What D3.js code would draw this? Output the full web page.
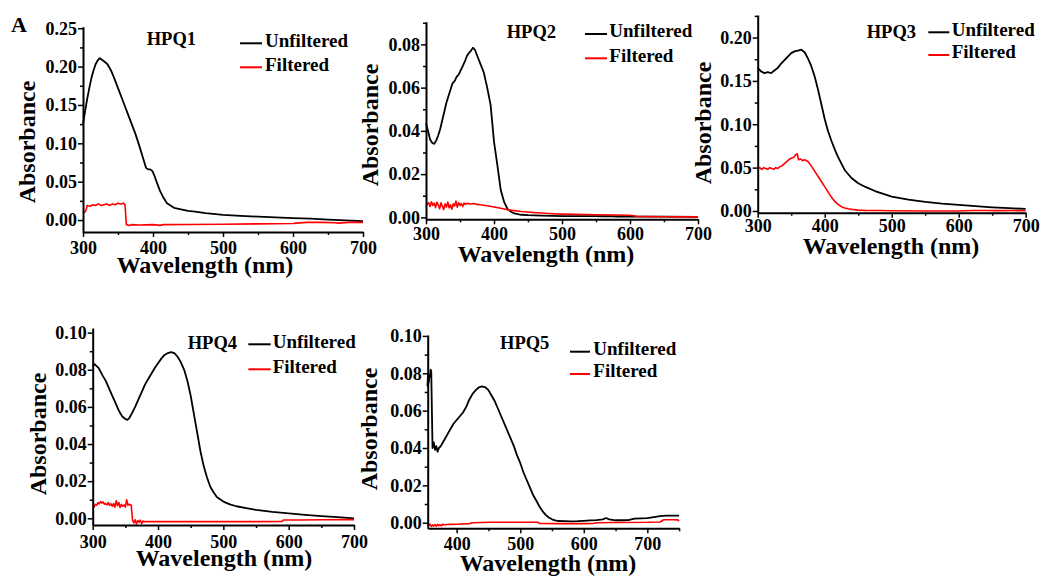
<!DOCTYPE html>
<html>
<head>
<meta charset="utf-8">
<script src="https://cdn.jsdelivr.net/npm/d3@7/dist/d3.min.js"></script>
<style>
  html, body { margin: 0; padding: 0; background: #fff; }
  svg { display: block; }
  text { font-family: "Liberation Serif", "Times New Roman", serif; font-weight: bold; fill: #000; }
</style>
</head>
<body>
<svg id="chart" width="1042" height="578"></svg>
<script>
// ---- UV-Vis absorbance spectra (wavelength in nm, absorbance) ----
const panelNames = ["HPQ1", "HPQ2", "HPQ3", "HPQ4", "HPQ5"];
const seriesNames = ["Unfiltered", "Filtered"];

const hpq1UnfWl = [300,303,306,309,312,315,318,321,324,327,330,335,340,345,350,355,360,365,370,375,380,385,390,393,396,399,402,405,410,415,420,425,430,440,450,460,475,500,525,550,575,600,625,650,675,700];
const hpq1Unf = [0.125,0.142,0.158,0.172,0.185,0.195,0.203,0.208,0.211,0.209,0.207,0.203,0.195,0.184,0.172,0.160,0.148,0.136,0.124,0.112,0.098,0.083,0.068,0.066,0.066,0.064,0.058,0.050,0.038,0.029,0.022,0.019,0.016,0.014,0.012,0.011,0.009,0.0068,0.0055,0.0044,0.0035,0.0025,0.0018,0.0005,-0.0005,-0.0015];
const hpq1FilWl = [300,302,304,306,310,314,318,322,326,330,334,338,342,346,350,354,358,360,362,366,370,380,400,410,415,450,500,550,600,605,620,640,660,665,680,700];
const hpq1Fil = [0.009,0.010,0.012,0.019,0.018,0.020,0.019,0.021,0.019,0.020,0.021,0.019,0.021,0.020,0.022,0.021,0.022,0.020,-0.006,-0.007,-0.006,-0.0065,-0.006,-0.007,-0.006,-0.0058,-0.0055,-0.005,-0.0045,-0.004,-0.003,-0.003,-0.0035,-0.004,-0.003,-0.003];

const hpq2UnfWl = [300,303,306,309,312,315,318,321,324,327,330,333,336,339,342,345,348,351,354,357,360,363,366,369,372,375,380,385,390,395,400,405,410,415,420,425,430,440,450,470,500,550,560,570,580,590,600,650,700];
const hpq2Unf = [0.0435,0.040,0.036,0.0345,0.034,0.0355,0.038,0.041,0.045,0.049,0.053,0.056,0.059,0.062,0.063,0.065,0.066,0.068,0.070,0.072,0.0745,0.076,0.077,0.0785,0.0775,0.075,0.071,0.067,0.060,0.052,0.035,0.024,0.0125,0.007,0.0038,0.0026,0.0018,0.0012,0.001,0.0008,0.0006,0.0006,0.0005,0.0006,0.0004,0.0005,0.0004,0.0003,0.0002];
const hpq2FilWl = [300,302,304,306,308,310,312,314,316,318,320,322,324,326,328,330,332,334,336,338,340,342,344,346,348,350,352,354,356,358,360,365,370,375,380,390,400,410,420,430,440,450,460,470,480,490,500,520,550,580,600,610,620,650,700];
const hpq2Fil = [0.0065,0.0060,0.0068,0.0050,0.0072,0.0055,0.0066,0.0045,0.0070,0.0058,0.0040,0.0067,0.0052,0.0036,0.0062,0.0048,0.0071,0.0044,0.0058,0.0038,0.0063,0.0052,0.0075,0.0047,0.0068,0.0055,0.0064,0.0050,0.0066,0.0060,0.0065,0.0062,0.0064,0.0060,0.0058,0.0054,0.0048,0.0042,0.0035,0.0031,0.0027,0.0025,0.0022,0.0020,0.0018,0.0016,0.0015,0.0014,0.0012,0.0011,0.0010,0.0005,0.0004,0.0003,0.0002];

const hpq3UnfWl = [300,305,310,315,320,325,330,335,340,345,350,355,360,365,370,375,380,385,390,395,400,405,410,415,420,430,440,450,460,475,500,525,550,575,600,625,650,675,700];
const hpq3Unf = [0.165,0.161,0.159,0.160,0.159,0.162,0.165,0.170,0.174,0.178,0.182,0.184,0.185,0.186,0.183,0.176,0.167,0.155,0.140,0.123,0.106,0.092,0.081,0.071,0.062,0.047,0.038,0.032,0.028,0.023,0.0165,0.013,0.0105,0.0085,0.007,0.0055,0.0042,0.0032,0.0023];
const hpq3FilWl = [300,303,306,309,312,315,318,321,324,327,330,333,336,339,342,345,348,351,354,357,359,361,364,367,370,375,380,385,390,395,400,405,410,415,420,425,430,435,440,450,460,480,500,550,600,620,640,660,680,700];
const hpq3Fil = [0.049,0.050,0.048,0.050,0.049,0.048,0.050,0.049,0.048,0.050,0.049,0.051,0.052,0.054,0.056,0.058,0.060,0.061,0.062,0.065,0.066,0.059,0.060,0.058,0.059,0.057,0.052,0.046,0.040,0.034,0.028,0.022,0.016,0.011,0.0075,0.005,0.0035,0.0025,0.0018,0.001,0.0007,0.0005,0.0003,0.0,0.0,0.0005,0.0006,0.0004,0.0005,0.0003];

const hpq4UnfWl = [300,303,306,309,312,315,320,325,330,335,340,345,350,353,356,360,365,370,375,380,385,390,395,400,405,410,415,420,425,430,435,440,445,450,455,460,465,470,475,480,485,490,500,510,520,535,550,575,600,625,650,675,700];
const hpq4Unf = [0.082,0.083,0.082,0.081,0.079,0.077,0.074,0.070,0.066,0.062,0.058,0.055,0.0535,0.053,0.054,0.0565,0.060,0.064,0.068,0.072,0.075,0.078,0.081,0.0835,0.086,0.088,0.089,0.0895,0.089,0.087,0.084,0.080,0.074,0.066,0.056,0.046,0.036,0.028,0.022,0.017,0.014,0.0115,0.009,0.0075,0.0065,0.0055,0.0045,0.0035,0.0027,0.0019,0.0012,0.0006,0.0];
const hpq4FilWl = [300,302,304,306,308,310,312,314,316,318,320,322,324,326,328,330,332,334,336,338,340,342,344,346,348,350,352,354,356,358,359,361,363,365,367,369,371,373,375,377,380,400,450,500,550,590,592,620,650,700];
const hpq4Fil = [0.0055,0.0060,0.0075,0.0070,0.0085,0.0078,0.0090,0.0082,0.0088,0.0076,0.0080,0.0072,0.0085,0.0070,0.0078,0.0065,0.0080,0.0060,0.0095,0.0068,0.0085,0.0058,0.0075,0.0065,0.0072,0.0060,0.0100,0.0070,0.0076,0.0072,0.0070,-0.0010,-0.0025,-0.0008,-0.0030,-0.0012,-0.0022,-0.0010,-0.0028,-0.0015,-0.0018,-0.0018,-0.0018,-0.0018,-0.0018,-0.0017,-0.0009,-0.0009,-0.0008,-0.0007];

const hpq5UnfWl = [354,355,356,357,358,359,360,361,362,364,366,368,370,372,375,380,385,390,395,400,405,410,415,420,425,430,435,440,445,450,455,460,465,470,475,480,485,490,495,500,505,510,515,520,525,530,535,540,545,550,555,560,570,580,590,600,610,620,630,635,640,650,660,670,680,690,700,710,720,730,740,750];
const hpq5Unf = [0.073,0.080,0.075,0.079,0.078,0.082,0.081,0.060,0.040,0.043,0.039,0.041,0.038,0.040,0.041,0.044,0.047,0.050,0.053,0.055,0.057,0.059,0.062,0.066,0.069,0.071,0.0725,0.073,0.0725,0.071,0.068,0.065,0.061,0.057,0.053,0.049,0.045,0.041,0.036,0.032,0.027,0.023,0.019,0.015,0.012,0.0088,0.0062,0.0042,0.0028,0.0018,0.0012,0.0009,0.0008,0.0007,0.0008,0.0010,0.0012,0.0014,0.0018,0.0025,0.0018,0.0013,0.0013,0.0014,0.0022,0.0023,0.0024,0.0030,0.0035,0.0038,0.0038,0.0038];
const hpq5FilWl = [354,356,358,360,362,364,366,368,370,372,374,376,378,380,385,390,400,420,425,440,450,500,528,530,560,600,615,620,650,700,720,724,726,740,748,750];
const hpq5Fil = [-0.0005,-0.0015,-0.0008,-0.0020,-0.0012,-0.0018,-0.0010,-0.0019,-0.0009,-0.0016,-0.0011,-0.0017,-0.0008,-0.0012,-0.0010,-0.0009,-0.0008,-0.0005,0.0,0.0001,0.0002,0.0002,0.0002,-0.0004,-0.0005,-0.0005,-0.0004,0.0,0.0001,0.0002,0.0004,0.0012,0.0016,0.0016,0.0015,0.0008];

// Axis ticks
const wlTicks = [300, 400, 500, 600, 700];
const wlTicks5 = [400, 500, 600, 700];
const absTicks1 = [0, 0.05, 0.10, 0.15, 0.20, 0.25];
const absTicks2 = [0, 0.02, 0.04, 0.06, 0.08];
const absTicks3 = [0, 0.05, 0.10, 0.15, 0.20];
const absTicks4 = [0, 0.02, 0.04, 0.06, 0.08, 0.10];

// Layout of each panel: pixel frame, domains and label placement
const panels = [
  { name: panelNames[0], unf: [hpq1UnfWl, hpq1Unf], fil: [hpq1FilWl, hpq1Fil],
    xd: [300, 700], xr: [83, 363], yd: [-0.0156, 0.252], yr: [232, 26.7],
    xt: wlTicks, yt: absTicks1, xLab: 22, title: [146.7, 44.5], leg: [240, 262, 43.3, 67.3, 265],
    xTitle: [205, 273], yTitle: [27, 142] },
  { name: panelNames[1], unf: [hpq2UnfWl, hpq2Unf], fil: [hpq2FilWl, hpq2Fil],
    xd: [300, 700], xr: [426, 698], yd: [-0.0009, 0.0905], yr: [219.3, 21.7],
    xt: wlTicks, yt: absTicks2, xLab: 20.5, title: [506.7, 37.5], leg: [585, 607, 34, 58.3, 609.3],
    xTitle: [546, 261.5], yTitle: [370, 125] },
  { name: panelNames[2], unf: [hpq3UnfWl, hpq3Unf], fil: [hpq3FilWl, hpq3Fil],
    xd: [300, 700], xr: [757.7, 1025.7], yd: [-0.002, 0.226], yr: [212.7, 15],
    xt: wlTicks, yt: absTicks3, xLab: 19, title: [866.7, 37.5], leg: [928.3, 949.3, 32.3, 55, 951.7],
    xTitle: [891, 254], yTitle: [703, 123] },
  { name: panelNames[3], unf: [hpq4UnfWl, hpq4Unf], fil: [hpq4FilWl, hpq4Fil],
    xd: [300, 700], xr: [92.7, 354], yd: [-0.0036, 0.1025], yr: [525, 328],
    xt: wlTicks, yt: absTicks4, xLab: 22.5, title: [187.7, 349], leg: [248.3, 270.7, 344.3, 369.3, 272.7],
    xTitle: [224, 566], yTitle: [38, 434] },
  { name: panelNames[4], unf: [hpq5UnfWl, hpq5Unf], fil: [hpq5FilWl, hpq5Fil],
    xd: [354.4, 750.3], xr: [427.7, 679.3], yd: [-0.003, 0.1005], yr: [528.3, 335],
    xt: wlTicks5, yt: absTicks4, xLab: 22, title: [500, 348.5], leg: [570, 590, 351.7, 374, 593.3],
    xTitle: [548, 571], yTitle: [369, 429] }
];

const svg = d3.select("#chart");
const fmt = d3.format(".2f");

// Figure letter
svg.append("text").attr("x", 11).attr("y", 31.5).attr("font-size", 22).text("A");

function midpoints(ticks, domain) {
  const step = ticks[1] - ticks[0];
  const out = [];
  for (let v = ticks[0] - step / 2; v <= domain[1] + 1e-9; v += step) {
    if (v >= domain[0] - 1e-9) out.push(v);
  }
  return out;
}

panels.forEach(p => {
  const x = d3.scaleLinear().domain(p.xd).range(p.xr);
  const y = d3.scaleLinear().domain(p.yd).range(p.yr);
  const g = svg.append("g");

  // Curves
  const line = d3.line().x(d => x(d[0])).y(d => y(d[1]));
  const unfPts = p.unf[0].map((w, i) => [w, p.unf[1][i]]);
  const filPts = p.fil[0].map((w, i) => [w, p.fil[1][i]]);
  g.append("path").datum(unfPts).attr("d", line)
    .attr("fill", "none").attr("stroke", "#000").attr("stroke-width", 1.8).attr("stroke-linejoin", "round");
  g.append("path").datum(filPts).attr("d", line)
    .attr("fill", "none").attr("stroke", "#ff0000").attr("stroke-width", 1.6).attr("stroke-linejoin", "round");

  // Minor ticks
  const xb = p.yr[0], yl = p.xr[0];
  g.append("g").attr("transform", `translate(0,${xb})`)
    .call(d3.axisBottom(x).tickValues(midpoints(p.xt, p.xd)).tickSize(3).tickSizeOuter(0).tickFormat(""))
    .call(a => a.select(".domain").remove())
    .selectAll("line").attr("stroke-width", 1.5);
  g.append("g").attr("transform", `translate(${yl},0)`)
    .call(d3.axisLeft(y).tickValues(midpoints(p.yt, p.yd)).tickSize(3).tickSizeOuter(0).tickFormat(""))
    .call(a => a.select(".domain").remove())
    .selectAll("line").attr("stroke-width", 1.5);

  // Major axes
  const xa = g.append("g").attr("transform", `translate(0,${xb})`)
    .call(d3.axisBottom(x).tickValues(p.xt).tickSize(5).tickSizeOuter(0).tickFormat(d3.format("d")));
  xa.selectAll("text").attr("y", p.xLab).attr("dy", null);
  const ya = g.append("g").attr("transform", `translate(${yl},0)`)
    .call(d3.axisLeft(y).tickValues(p.yt).tickSize(5).tickPadding(1).tickSizeOuter(0).tickFormat(fmt));
  [xa, ya].forEach(a => {
    a.select(".domain").attr("stroke-width", 2);
    a.selectAll(".tick line").attr("stroke-width", 1.5);
    a.selectAll("text").attr("font-family", "Liberation Serif").attr("font-weight", "bold").attr("font-size", 18);
  });

  // Axis titles
  g.append("text").attr("x", p.xTitle[0]).attr("y", p.xTitle[1]).attr("text-anchor", "middle")
    .attr("font-size", 24).text("Wavelength (nm)");
  g.append("text").attr("transform", `translate(${p.yTitle[0]},${p.yTitle[1]}) rotate(-90)`)
    .attr("text-anchor", "middle").attr("dy", "0.35em").attr("font-size", 24).text("Absorbance");

  // Panel title
  g.append("text").attr("x", p.title[0]).attr("y", p.title[1]).attr("font-size", 18.5).text(p.name);

  // Legend
  const [lx0, lx1, ly0, ly1, tx] = p.leg;
  const legItems = [
    { label: seriesNames[0], color: "#000", y: ly0 },
    { label: seriesNames[1], color: "#ff0000", y: ly1 }
  ];
  legItems.forEach(it => {
    g.append("line").attr("x1", lx0).attr("x2", lx1).attr("y1", it.y).attr("y2", it.y)
      .attr("stroke", it.color).attr("stroke-width", 2);
    g.append("text").attr("x", tx).attr("y", it.y + 3.4).attr("font-size", 19).text(it.label);
  });
});
</script>
</body>
</html>
